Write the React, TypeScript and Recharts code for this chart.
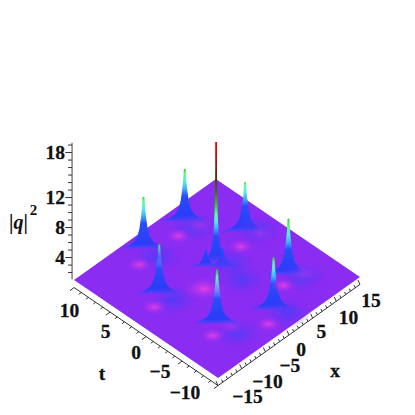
import { Area, ComposedChart, Line, Scatter, XAxis, YAxis } from 'recharts';

// lattice of spikes: x, t, peak |q|^2, and how fat each one looks
const peakX = [5.2, 9.9, -3.2, 7.8, 2.4, 0.5, 2.2, -8.4, 1, -7];
const peakT = [7.9, 2.6, 8.1, -4.8, 1.7, 1.9, 0.7, 2.5, -7.2, -4.6];
const peakZ = [8.1, 7.7, 8, 8.6, 17, 3.4, 3.6, 7.7, 8.1, 8.4];
const peakSpread = [1, 1, 1, 1, 0.4, 0.95, 0.95, 1, 1, 1];

// pink dips in the plate
const dipX = [-5.9, 2.5, 7.3, 5.8, -1.6, -9.1, -10.8];
const dipT = [6.9, 7, 1.5, -5.4, -8.2, -5.4, 1.6];
const centreDipX = [-2.9];
const centreDipT = [-0.1];
const faintDipX = [11.4, 6.2, 9.7, -5.9];
const faintDipT = [1.5, 6.6, -5.7, -5.8];

// blue tails running off the foot of each spike
const tailX = [-7.8, -2.9, 5.3, 11.5, 3.7, 2.4, 9, 2, -6.2];
const tailT = [1, 6.4, 6.8, 2, 0.6, -1.9, -5.9, -8.4, -6.9];

const xRange = [-15, 15];
const tRange = [-10, 10];
const plateZ = 1;
const zAxisRange = [1.1, 19.3];

const xTicks = [-15, -14, -13, -12, -11, -10, -9, -8, -7, -6, -5, -4, -3, -2, -1, 0, 1, 2, 3, 4, 5, 6, 7, 8, 9, 10, 11, 12, 13, 14, 15];
const tTicks = [-10, -9, -8, -7, -6, -5, -4, -3, -2, -1, 0, 1, 2, 3, 4, 5, 6, 7, 8, 9, 10];
const zTicks = [2, 3, 4, 5, 6, 7, 8, 9, 10, 11, 12, 13, 14, 15, 16, 17, 18, 19];
const xLabels = [-15, -10, -5, 0, 5, 10, 15];
const tLabels = [-10, -5, 0, 5, 10];
const zLabels = [4, 8, 12, 18];

// where the labels sit relative to their axis point, in the same order as the label lists
const xLabelNudge = [[29.5, 10.5], [25.8, 12.3], [24.6, 14.1], [12, 14], [8.8, 13.8], [12.2, 15.7], [11, 16.5]];
const tLabelNudge = [[-33, 6.5], [-22, 10], [-10, 15.5], [-4.5, 19], [-4.5, 22.5]];

// height fraction of a spike against its half width on screen
const profileFraction = [1, 0.8, 0.6, 0.4, 0.25, 0.15, 0.08, 0.03];
const profileHalfWidth = [0.6, 1.5, 2.6, 4.1, 6.2, 9.5, 15, 22];

// colour ramp by height
const rampZ = [1, 1.25, 1.8, 4.5, 5.6, 6.4, 7.4, 8.6, 10.5, 12.5, 14.5, 16];
const rampColor = ['#8a2cf0', '#5040fa', '#2a3cf8', '#2a4cf8', '#45b8ff', '#55e8e8', '#58ff90', '#30d020', '#3a7000', '#503000', '#a01010', '#f00000'];

const SIZE = 415;
const FONT = '"Liberation Serif", serif';

// the view of the box, in chart units (one unit is one pixel here)
function project(x: number, t: number, z: number) {
  return { px: 217 + 4.73 * x - 7.2 * t, py: 286 - 3.37 * x - 4.9 * t - 7.5 * z };
}

const plateCorners = [
  project(xRange[0], tRange[1], plateZ),
  project(xRange[0], tRange[0], plateZ),
  project(xRange[1], tRange[1], plateZ),
  project(xRange[1], tRange[0], plateZ),
];
const [cLeft, cBottom, cTop, cRight] = plateCorners;
const along = (a: any, b: any, px: number) => a.py + ((b.py - a.py) * (px - a.px)) / (b.px - a.px);
const plateData = [
  { px: cLeft.px, range: [cLeft.py, cLeft.py] },
  { px: cTop.px, range: [along(cLeft, cBottom, cTop.px), cTop.py] },
  { px: cBottom.px, range: [cBottom.py, along(cTop, cRight, cBottom.px)] },
  { px: cRight.px, range: [cRight.py, cRight.py] },
].sort((a, b) => a.px - b.px);

const peakOrder = peakX.map((_, i) => i).sort((a, b) => project(peakX[a], peakT[a], 0).py - project(peakX[b], peakT[b], 0).py);

function spikeData(i: number) {
  const base = project(peakX[i], peakT[i], plateZ);
  const side = profileFraction.map((f, k) => {
    const hw = Math.max(profileHalfWidth[k] * peakSpread[i], 0.9);
    const top = project(peakX[i], peakT[i], plateZ + f * (peakZ[i] - plateZ)).py;
    return { hw, range: [base.py + hw * 0.28, top] };
  });
  const right = side.map((s) => ({ px: base.px + s.hw, range: s.range }));
  const left = side.map((s) => ({ px: base.px - s.hw, range: s.range })).reverse();
  return [...left, ...right];
}

function spikeStops(i: number) {
  const hw = profileHalfWidth[profileHalfWidth.length - 1] * peakSpread[i];
  const zBottom = plateZ - (hw * 0.28) / 7.5;
  const stops = rampZ.filter((z) => z < peakZ[i]);
  return stops.map((z) => ({ offset: (peakZ[i] - z) / (peakZ[i] - zBottom), color: rampColor[rampZ.indexOf(z)] }));
}

function topColor(i: number) {
  const idx = rampZ.findIndex((z) => z >= peakZ[i]);
  return rampColor[idx < 0 ? rampColor.length - 1 : idx];
}

const onPlate = (xs: number[], ts: number[]) => xs.map((x, i) => project(x, ts[i], plateZ));

const glow = (fill: string, rx: number, ry: number) => (props: any) => (
  <ellipse cx={props.cx} cy={props.cy} rx={rx} ry={ry} fill={fill} />
);

const label = (size = 19.5, anchor = 'middle') => (props: any) => (
  <text
    x={props.cx}
    y={props.cy}
    textAnchor={anchor}
    dominantBaseline="central"
    fontFamily={FONT}
    fontWeight="bold"
    fontSize={size}
    stroke="#111"
    strokeWidth={0.3}
    fill="#111"
  >
    {props.payload.text}
  </text>
);

const tick = (dx: number, dy: number) => (props: any) => {
  const k = props.payload.major ? 1.7 : 1;
  return <line x1={props.cx} y1={props.cy} x2={props.cx + dx * k} y2={props.cy + dy * k} stroke="#333" strokeWidth={1} />;
};

const qLabel = (props: any) => (
  <text x={props.cx} y={props.cy} fontFamily={FONT} fontWeight="bold" fontSize={20} fill="#111" dominantBaseline="central">
    |<tspan fontStyle="italic">q</tspan>|
    <tspan fontSize={15} dy={-12} dx={2}>2</tspan>
  </text>
);

const minus = (v: number) => (v < 0 ? `\u2212${-v}` : `${v}`);

const tAxisLine = [project(xRange[0], tRange[1], 0), project(xRange[0], tRange[0], 0)];
const xAxisLine = [project(xRange[0], tRange[0], 0), project(xRange[1], tRange[0], 0)];
const zAxisPoint = (z: number) => {
  const p = project(xRange[0], tRange[1], z);
  return { px: p.px - 2, py: p.py };
};
const zAxisLine = zAxisRange.map(zAxisPoint).map((p, i) => ({ ...p, px: p.px + i * 0.001 }));

const xTickData = xTicks.map((v) => ({ ...project(v, tRange[0], 0), major: v % 5 === 0 }));
const tTickData = tTicks.map((v) => ({ ...project(xRange[0], v, 0), major: v % 5 === 0 }));
const zTickData = zTicks.map((v) => ({ ...zAxisPoint(v), major: zLabels.includes(v) }));

const xLabelData = xLabels.map((v, i) => {
  const p = project(v, tRange[0], 0);
  return { px: p.px + xLabelNudge[i][0], py: p.py + xLabelNudge[i][1], text: minus(v) };
});
const tLabelData = tLabels.map((v, i) => {
  const p = project(xRange[0], v, 0);
  return { px: p.px + tLabelNudge[i][0], py: p.py + tLabelNudge[i][1], text: minus(v) };
});
const zLabelData = zLabels.map((v) => {
  const p = zAxisPoint(v);
  return { px: p.px - 7, py: p.py, text: minus(v) };
});
const axisTitles = [
  { px: 102, py: 373, text: 't' },
  { px: 335, py: 370, text: 'x' },
];
const qTitle = [{ px: 9, py: 222 }];

export default function App() {
  return (
    <div style={{ position: 'absolute', left: 0, top: 0, width: SIZE, height: SIZE, background: '#fff' }}>
      <ComposedChart width={SIZE} height={SIZE} margin={{ top: 0, right: 0, bottom: 0, left: 0 }}>
        <defs>
          <radialGradient id="dip">
            <stop offset="0%" stopColor="#f040e0" stopOpacity={0.9} />
            <stop offset="45%" stopColor="#c838e8" stopOpacity={0.5} />
            <stop offset="100%" stopColor="#a030f0" stopOpacity={0} />
          </radialGradient>
          <radialGradient id="faintDip">
            <stop offset="0%" stopColor="#c038e8" stopOpacity={0.55} />
            <stop offset="100%" stopColor="#a030f0" stopOpacity={0} />
          </radialGradient>
          <radialGradient id="tail">
            <stop offset="0%" stopColor="#4a3cf8" stopOpacity={0.8} />
            <stop offset="100%" stopColor="#5a38f5" stopOpacity={0} />
          </radialGradient>
          {peakX.map((_, i) => (
            <linearGradient key={i} id={`spike${i}`} x1="0" y1="0" x2="0" y2="1">
              <stop offset="0%" stopColor={topColor(i)} />
              {spikeStops(i)
                .reverse()
                .map((s, k) => (
                  <stop key={k} offset={`${s.offset * 100}%`} stopColor={s.color} stopOpacity={k === spikeStops(i).length - 1 ? 0.3 : 1} />
                ))}
            </linearGradient>
          ))}
        </defs>
        <XAxis type="number" dataKey="px" domain={[0, SIZE]} hide allowDataOverflow />
        <YAxis type="number" dataKey="py" domain={[0, SIZE]} reversed hide allowDataOverflow />

        <Area data={plateData} dataKey="range" fill="#8b2cf2" fillOpacity={1} stroke="none" dot={false} activeDot={false} isAnimationActive={false} />

        <Scatter data={onPlate(tailX, tailT)} dataKey="py" shape={glow('url(#tail)', 24, 15)} isAnimationActive={false} />
        <Scatter data={onPlate(dipX, dipT)} dataKey="py" shape={glow('url(#dip)', 13, 7.5)} isAnimationActive={false} />
        <Scatter data={onPlate(centreDipX, centreDipT)} dataKey="py" shape={glow('url(#dip)', 21, 12)} isAnimationActive={false} />
        <Scatter data={onPlate(faintDipX, faintDipT)} dataKey="py" shape={glow('url(#faintDip)', 14, 8)} isAnimationActive={false} />

        {peakOrder.map((i) => (
          <Area
            key={i}
            data={spikeData(i)}
            dataKey="range"
            fill={`url(#spike${i})`}
            fillOpacity={1}
            stroke="none"
            dot={false}
            activeDot={false}
            isAnimationActive={false}
          />
        ))}

        <Line data={tAxisLine} dataKey="py" stroke="#333" strokeWidth={1} dot={false} activeDot={false} isAnimationActive={false} />
        <Line data={xAxisLine} dataKey="py" stroke="#333" strokeWidth={1} dot={false} activeDot={false} isAnimationActive={false} />
        <Line data={zAxisLine} dataKey="py" stroke="#444" strokeWidth={1} dot={false} activeDot={false} isAnimationActive={false} />

        <Scatter data={xTickData} dataKey="py" shape={tick(-1.2, -2.6)} isAnimationActive={false} />
        <Scatter data={tTickData} dataKey="py" shape={tick(-2.4, 1.8)} isAnimationActive={false} />
        <Scatter data={zTickData} dataKey="py" shape={tick(-4, 0)} isAnimationActive={false} />

        <Scatter data={xLabelData} dataKey="py" shape={label()} isAnimationActive={false} />
        <Scatter data={tLabelData} dataKey="py" shape={label()} isAnimationActive={false} />
        <Scatter data={zLabelData} dataKey="py" shape={label(19.5, 'end')} isAnimationActive={false} />
        <Scatter data={axisTitles} dataKey="py" shape={label()} isAnimationActive={false} />
        <Scatter data={qTitle} dataKey="py" shape={qLabel} isAnimationActive={false} />
      </ComposedChart>
    </div>
  );
}
